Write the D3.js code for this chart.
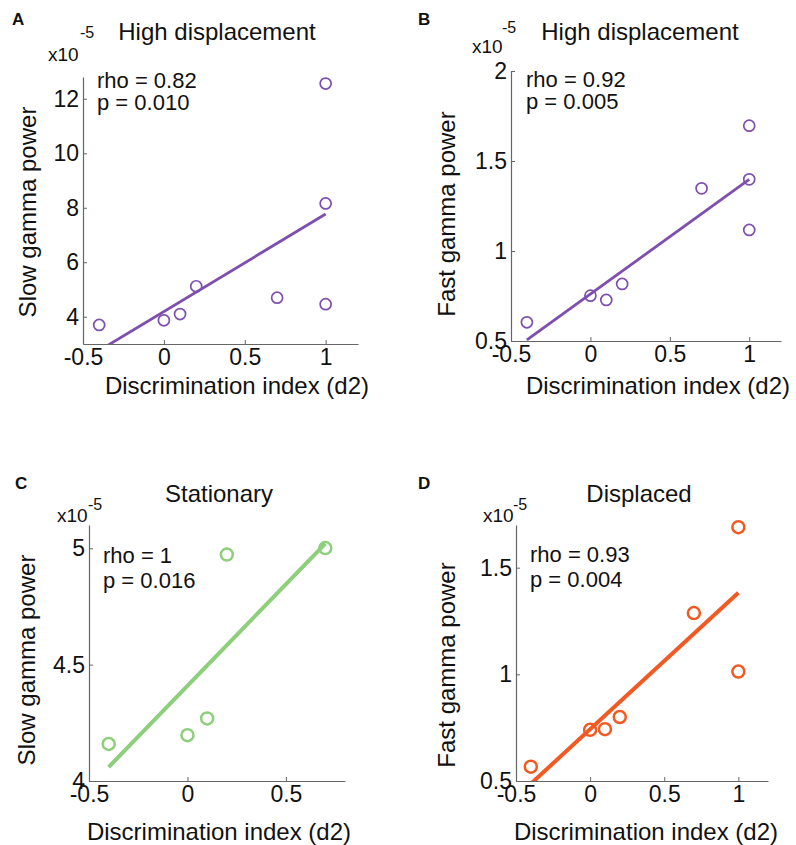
<!DOCTYPE html>
<html>
<head>
<meta charset="utf-8">
<script src="https://cdn.jsdelivr.net/npm/d3@7"></script>
<style>
  body { margin: 0; background: #fff; }
  svg text { font-family: Arial, "Liberation Sans", sans-serif; fill: #111; }
</style>
</head>
<body>
<div id="fig"></div>
<script>
// values (power in units of 1e-5)
var xA = [-0.4, 0, 0.1, 0.2, 0.7, 1, 1, 1];
var yA = [3.7, 3.87, 4.1, 5.12, 4.7, 4.46, 8.16, 12.56];
var fitA = [[-0.4, 2.76], [1, 7.77]];

var xB = [-0.4, 0, 0.1, 0.2, 0.7, 1, 1, 1];
var yB = [0.604, 0.752, 0.728, 0.817, 1.348, 1.696, 1.398, 1.117];
var fitB = [[-0.4, 0.506], [1, 1.398]];

var xC = [-0.4, 0, 0.1, 0.2, 0.7];
var yC = [4.159, 4.197, 4.269, 4.973, 5.001];
var fitC = [[-0.4, 4.06], [0.7, 5.02]];

var xD = [-0.4, 0, 0.1, 0.2, 0.7, 1, 1];
var yD = [0.567, 0.74, 0.743, 0.80, 1.287, 1.013, 1.69];
var fitD = [[-0.4, 0.487], [1, 1.382]];

var xTicks = [-0.5, 0, 0.5, 1];
var xTicksC = [-0.5, 0, 0.5];
var yTicksA = [4, 6, 8, 10, 12];
var yTicksB = [0.5, 1, 1.5, 2];
var yTicksC = [4, 4.5, 5];
var yTicksD = [0.5, 1, 1.5];

var titles = ["High displacement", "High displacement", "Stationary", "Displaced"];
var letters = ["A", "B", "C", "D"];
var yLabels = ["Slow gamma power", "Fast gamma power", "Slow gamma power", "Fast gamma power"];
var statsText = [["rho = 0.82", "p = 0.010"], ["rho = 0.92", "p = 0.005"],
                 ["rho = 1", "p = 0.016"], ["rho = 0.93", "p = 0.004"]];
var xLabel = "Discrimination index (d2)";

var svg = d3.select("#fig").append("svg")
  .attr("width", 796)
  .attr("height", 845);

// panel layout: plot box, domains, styling
var panels = [
  {x: xA, y: yA, fit: fitA, xt: xTicks, yt: yTicksA, box: [83, 77, 358, 344],
   xd: [-0.5, 1.2], yd: [3, 12.8], color: "#7e4fae", r: 5.5, sw: 1.7, lw: 2.8,
   letter: [12, 25], title: [217, 40], exp: [48, 61, 80, 38], stats: [97, 88, 22],
   ylab: [28, 212], xlab: [237, 394]},
  {x: xB, y: yB, fit: fitB, xt: xTicks, yt: yTicksB, box: [511, 71, 781, 341],
   xd: [-0.5, 1.2], yd: [0.5, 2], color: "#7e4fae", r: 5.5, sw: 1.7, lw: 2.8,
   letter: [418, 25], title: [640, 40], exp: [472, 53, 502, 33], stats: [526, 87, 22],
   ylab: [447, 214], xlab: [658, 394]},
  {x: xC, y: yC, fit: fitC, xt: xTicksC, yt: yTicksC, box: [89, 525, 345, 781],
   xd: [-0.5, 0.8], yd: [4, 5.1], color: "#8dcf7b", r: 6, sw: 2.5, lw: 4,
   letter: [15, 489], title: [219, 502], exp: [57, 522, 88, 510], stats: [103, 563, 25],
   ylab: [27, 660], xlab: [219, 840]},
  {x: xD, y: yD, fit: fitD, xt: xTicks, yt: yTicksD, box: [516, 525, 768, 781],
   xd: [-0.5, 1.2], yd: [0.5, 1.7], color: "#f15a22", r: 6, sw: 2.5, lw: 4,
   letter: [418, 489], title: [639, 502], exp: [483, 522, 513, 510], stats: [530, 562, 25],
   ylab: [447, 665], xlab: [646, 840]}
];

panels.forEach(function(p, i) {
  var b = p.box;
  var xScale = d3.scaleLinear().domain(p.xd).range([b[0], b[2]]);
  var yScale = d3.scaleLinear().domain(p.yd).range([b[3], b[1]]);

  var g = svg.append("g");

  // axes, ticks pointing inward like matlab
  var xAxis = g.append("g")
    .attr("transform", "translate(0," + b[3] + ")")
    .call(d3.axisBottom(xScale).tickValues(p.xt).tickSizeInner(-4).tickSizeOuter(0)
      .tickPadding(5).tickFormat(function(d) { return String(d); }));
  var yAxis = g.append("g")
    .attr("transform", "translate(" + b[0] + ",0)")
    .call(d3.axisLeft(yScale).tickValues(p.yt).tickSizeInner(-4).tickSizeOuter(0)
      .tickPadding(4).tickFormat(function(d) { return String(d); }));
  [xAxis, yAxis].forEach(function(a) {
    a.select(".domain").attr("stroke", "#666").attr("stroke-width", 1.2);
    a.selectAll(".tick line").attr("stroke", "#666");
    a.selectAll(".tick text").attr("font-size", 23).attr("fill", "#111")
      .attr("font-family", "Arial, 'Liberation Sans', sans-serif");
  });

  // clip the fit line to the plot box
  g.append("clipPath").attr("id", "clip" + i)
    .append("rect")
    .attr("x", b[0]).attr("y", b[1])
    .attr("width", b[2] - b[0]).attr("height", b[3] - b[1]);

  g.append("path")
    .datum(p.fit)
    .attr("clip-path", "url(#clip" + i + ")")
    .attr("d", d3.line().x(function(d) { return xScale(d[0]); }).y(function(d) { return yScale(d[1]); }))
    .attr("stroke", p.color)
    .attr("stroke-width", p.lw)
    .attr("fill", "none");

  g.selectAll("circle.pt")
    .data(p.x.map(function(v, k) { return [v, p.y[k]]; }))
    .enter()
    .append("circle")
    .attr("class", "pt")
    .attr("cx", function(d) { return xScale(d[0]); })
    .attr("cy", function(d) { return yScale(d[1]); })
    .attr("r", p.r)
    .attr("fill", "none")
    .attr("stroke", p.color)
    .attr("stroke-width", p.sw);

  // text bits
  g.append("text")
    .attr("x", p.letter[0]).attr("y", p.letter[1])
    .attr("font-size", 17).attr("font-weight", 700)
    .text(letters[i]);

  g.append("text")
    .attr("x", p.title[0]).attr("y", p.title[1])
    .attr("text-anchor", "middle")
    .attr("font-size", 24)
    .text(titles[i]);

  g.append("text")
    .attr("x", p.exp[0]).attr("y", p.exp[1])
    .attr("font-size", 19)
    .text("x10");
  g.append("text")
    .attr("x", p.exp[2]).attr("y", p.exp[3])
    .attr("font-size", 16)
    .text("-5");

  statsText[i].forEach(function(s, k) {
    g.append("text")
      .attr("x", p.stats[0]).attr("y", p.stats[1] + k * p.stats[2])
      .attr("font-size", 22)
      .text(s);
  });

  g.append("text")
    .attr("transform", "translate(" + p.ylab[0] + "," + p.ylab[1] + ") rotate(-90)")
    .attr("text-anchor", "middle")
    .attr("dy", "0.35em")
    .attr("font-size", 24)
    .text(yLabels[i]);

  g.append("text")
    .attr("x", p.xlab[0]).attr("y", p.xlab[1])
    .attr("text-anchor", "middle")
    .attr("font-size", 24)
    .text(xLabel);
});
</script>
</body>
</html>
